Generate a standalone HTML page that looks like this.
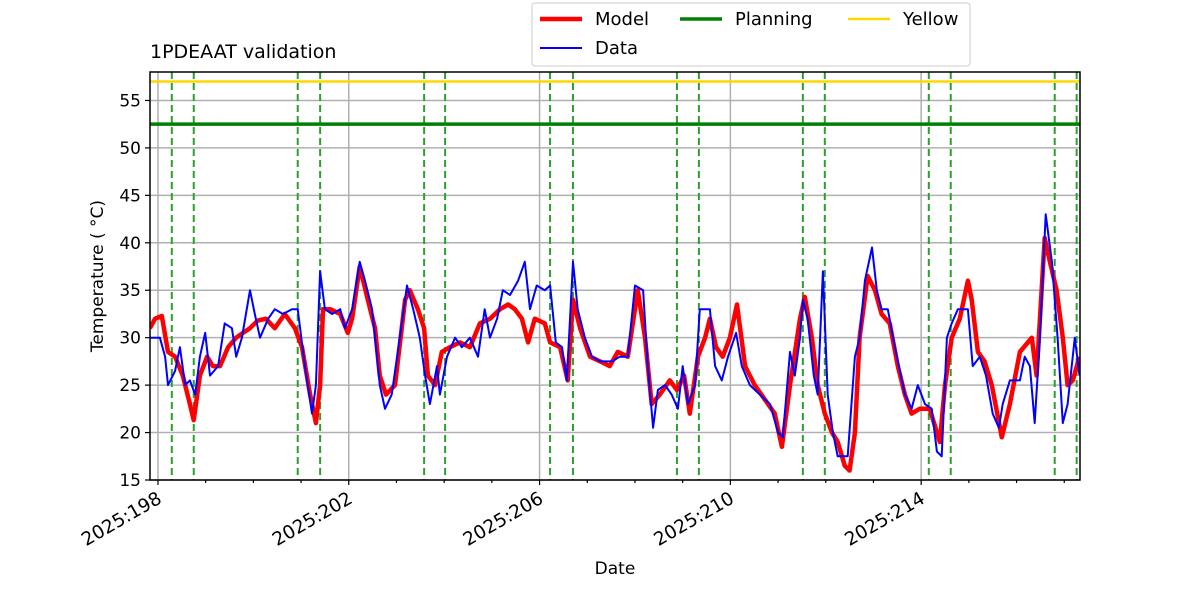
<!DOCTYPE html>
<html><head><meta charset="utf-8"><style>
body{margin:0;background:#fff;font-family:"Liberation Sans","DejaVu Sans",sans-serif;}
</style></head><body>
<svg id="c" width="1200" height="600" xmlns="http://www.w3.org/2000/svg" font-family="DejaVu Sans, Liberation Sans, sans-serif"></svg>
<script>
const yTicks=[15,20,25,30,35,40,45,50,55];
const xTickDays=[198,202,206,210,214];
const xTickLabels=["2025:198","2025:202","2025:206","2025:210","2025:214"];
const planningDays=[198.29,198.75,200.93,201.40,203.58,204.02,206.22,206.70,208.88,209.34,211.52,211.98,214.16,214.62,216.80,217.26];
const planningLevel=52.5;
const yellowLevel=57;
const modelT=[197.83,197.94,198.08,198.21,198.36,198.52,198.67,198.75,198.88,199.03,199.15,199.30,199.47,199.64,199.78,199.93,200.09,200.26,200.45,200.66,200.87,201.02,201.19,201.31,201.40,201.46,201.61,201.82,201.98,202.07,202.23,202.40,202.55,202.65,202.78,202.97,203.18,203.28,203.45,203.58,203.66,203.81,203.95,204.12,204.33,204.54,204.75,204.96,205.17,205.34,205.48,205.63,205.76,205.90,206.11,206.22,206.43,206.59,206.70,206.85,207.06,207.27,207.47,207.64,207.85,208.06,208.21,208.35,208.52,208.73,208.88,209.03,209.15,209.32,209.47,209.57,209.70,209.84,209.99,210.14,210.31,210.51,210.72,210.93,211.08,211.25,211.46,211.56,211.71,211.83,211.98,212.13,212.25,212.40,212.50,212.61,212.71,212.88,213.03,213.17,213.34,213.51,213.66,213.80,213.97,214.18,214.39,214.50,214.64,214.81,214.98,215.06,215.19,215.33,215.48,215.69,215.86,216.07,216.32,216.42,216.59,216.70,216.84,216.97,217.07,217.18,217.32];
const modelV=[31,32,32.3,28.5,28,26,23,21.3,26,28,27,27,29,30,30.5,31,31.8,32,31,32.5,31,29,24,21,25,33,33,32.5,30.5,32,37.5,34,31,26,24,25,34,35,33,31,26,25,28.5,29,29.5,29,31.5,32,33,33.5,33,32,29.5,32,31.5,29.5,29,25.5,34,31,28,27.5,27,28.5,28,35,30,23,24,25.5,24.5,26,22,28,30,32,29,28,30,33.5,27,25,23.5,22,18.5,25,32,34.3,30,25,22,20,19,16.5,16,20,30,36.5,35,32.5,31.5,27,24,22,22.5,22.5,19,25,30,32,36,34,28.5,27.5,25,19.5,23,28.5,30,26,40.5,38,35,30,25,25.5,28];
const dataT=[197.83,198.04,198.15,198.21,198.36,198.46,198.57,198.67,198.78,198.88,198.99,199.09,199.26,199.40,199.55,199.64,199.76,199.93,200.03,200.14,200.31,200.45,200.62,200.81,200.93,201.08,201.23,201.31,201.40,201.50,201.65,201.82,201.92,202.07,202.23,202.34,202.49,202.65,202.76,202.90,203.07,203.22,203.35,203.49,203.60,203.70,203.85,203.91,204.06,204.23,204.37,204.54,204.71,204.85,204.96,205.11,205.23,205.38,205.55,205.69,205.80,205.94,206.11,206.22,206.34,206.47,206.57,206.70,206.80,206.95,207.10,207.27,207.52,207.68,207.85,208.00,208.17,208.27,208.38,208.48,208.63,208.77,208.90,209.00,209.11,209.26,209.36,209.57,209.68,209.82,209.95,210.12,210.24,210.41,210.62,210.83,211.00,211.10,211.25,211.35,211.46,211.52,211.62,211.75,211.83,211.94,212.04,212.15,212.25,212.46,212.61,212.71,212.82,212.97,213.07,213.17,213.30,213.45,213.66,213.80,213.93,214.08,214.22,214.33,214.43,214.54,214.64,214.77,214.98,215.08,215.23,215.36,215.50,215.63,215.71,215.86,216.07,216.17,216.28,216.38,216.49,216.61,216.74,216.86,216.97,217.07,217.22,217.32];
const dataV=[30,30,28,25,26.5,29,25,25.5,24,28,30.5,26,27,31.5,31,28,30,35,32.5,30,32,33,32.5,33,33,27,22,25,37,33,32.5,33,31,33,38,36,33,25,22.5,24,30,35.5,33,30,26,23,27,24,28,30,29,30,28,33,30,32,35,34.5,36,38,33,35.5,35,35.5,29.5,29,25.5,38,33,30,28,27.5,27.5,28,28,35.5,35,27,20.5,24.5,25,24,22.5,27,23,25,33,33,27,25.5,28,30.5,27,25,24,23,20,19.5,28.5,26,30,34,32,26,24,37,24,20,17.5,17.5,28,30,36,39.5,35,33,33,29,24,22.5,25,23,22.5,18,17.5,30,31.5,33,33,27,28,26,22,20.5,23,25.5,25.5,28,27,21,30,43,38,30,21,23,30,26];

const L=150,R=1080,T=72,B=480,x0=197.833,x1=217.33,y0=15,y1=58;
const X=d=>L+(d-x0)/(x1-x0)*(R-L);
const Y=v=>B-(v-y0)/(y1-y0)*(B-T);
const svg=document.getElementById('c');const NS='http://www.w3.org/2000/svg';
function mk(tag,attrs,parent){const e=document.createElementNS(NS,tag);for(const k in attrs)e.setAttribute(k,attrs[k]);(parent||svg).appendChild(e);return e;}
const clip=mk('clipPath',{id:'pc'});mk('rect',{x:L,y:T,width:R-L,height:B-T},clip);
const grid=mk('g',{});

yTicks.forEach(v=>{mk('line',{x1:L,x2:R,y1:Y(v),y2:Y(v),stroke:'#b0b0b0','stroke-width':1.5},grid);});
xTickDays.forEach(d=>{mk('line',{x1:X(d),x2:X(d),y1:T,y2:B,stroke:'#b0b0b0','stroke-width':1.5},grid);});
const pl=mk('g',{'clip-path':'url(#pc)'});

planningDays.forEach(d=>{mk('line',{x1:X(d),x2:X(d),y1:T,y2:B,stroke:'#2ca02c','stroke-width':2,'stroke-dasharray':'7,4'},pl);});
const hl=mk('line',{x1:L,x2:R,y1:Y(planningLevel),y2:Y(planningLevel),stroke:'#008000','stroke-width':3.5});

const yl=mk('line',{x1:L,x2:R,y1:Y(yellowLevel),y2:Y(yellowLevel),stroke:'#ffd700','stroke-width':2.5});

function path(ts,vs){return ts.map((t,i)=>(i?'L':'M')+X(t).toFixed(1)+','+Y(vs[i]).toFixed(1)).join('');}
const mp=mk('path',{d:path(modelT,modelV),fill:'none',stroke:'#ff0000','stroke-width':4.5,'stroke-linejoin':'round','clip-path':'url(#pc)'});

const dp=mk('path',{d:path(dataT,dataV),fill:'none',stroke:'#0000ff','stroke-width':2,'stroke-linejoin':'round','clip-path':'url(#pc)'});

const fr=mk('rect',{x:L,y:T,width:R-L,height:B-T,fill:'none',stroke:'#000','stroke-width':1.5});

yTicks.forEach(v=>{mk('line',{x1:L-5,x2:L,y1:Y(v),y2:Y(v),stroke:'#000','stroke-width':1.2});
const t=mk('text',{x:L-9,y:Y(v)+6,'text-anchor':'end','font-size':17});t.textContent=v;
});
for(let d=198;d<=217;d++){const major=xTickDays.includes(d);mk('line',{x1:X(d),x2:X(d),y1:B,y2:B+(major?5:3),stroke:'#000','stroke-width':1.2});}
xTickDays.forEach((d,i)=>{const ax=X(d)-2,ay=B+10;const t=mk('text',{x:ax,y:ay,'text-anchor':'end','font-size':18.5,transform:`rotate(-30 ${ax} ${ay})`,dy:'0.75em'});t.textContent=xTickLabels[i];
});
const xt=mk('text',{x:615,y:574,'text-anchor':'middle','font-size':17});xt.textContent='Date';

const yt=mk('text',{x:103,y:276,'text-anchor':'middle','font-size':17,transform:'rotate(-90 103 276)'});yt.textContent='Temperature ( °C)';

const tt=mk('text',{x:150,y:58,'font-size':19});tt.textContent='1PDEAAT validation';

const lg=mk('g',{});
mk('rect',{x:532,y:3,width:438,height:63,rx:3,fill:'#fff',stroke:'#ccc'},lg);
const items=[['Model','#ff0000',4.5,540,19],['Data','#0000ff',2,540,48],['Planning','#008000',3.5,680,19],['Yellow','#ffd700',2.5,848,19]];
items.forEach(it=>{const g=mk('g',{},lg);
mk('line',{x1:it[3],x2:it[3]+42,y1:it[4],y2:it[4],stroke:it[1],'stroke-width':it[2]},g);
const t=mk('text',{x:it[3]+55,y:it[4]+6,'font-size':18},g);t.textContent=it[0];});
</script>
</body></html>
